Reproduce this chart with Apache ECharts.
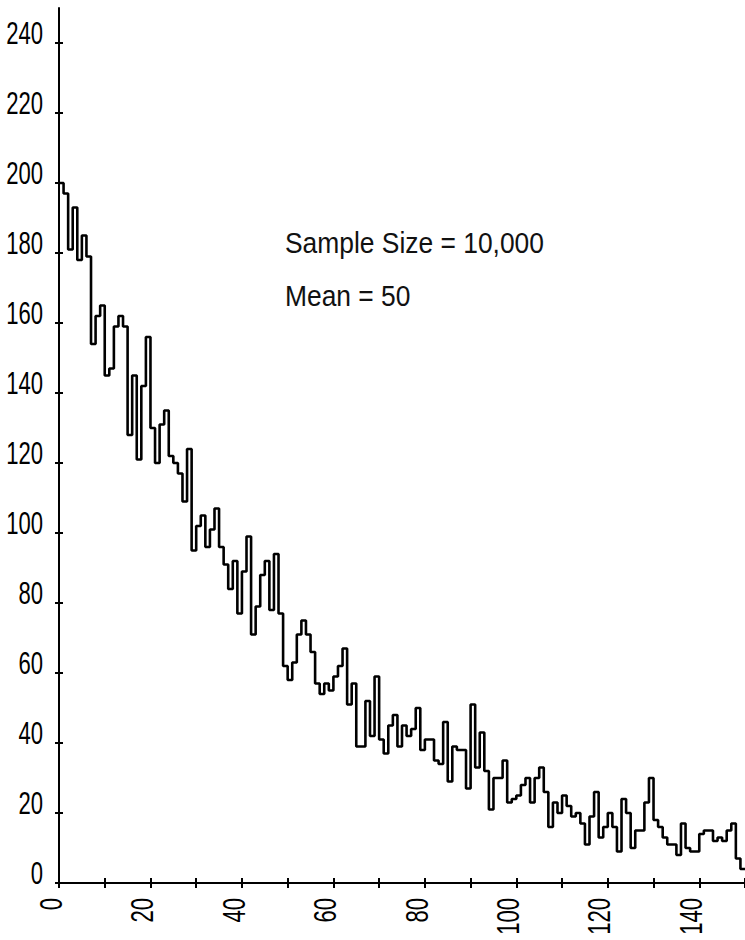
<!DOCTYPE html>
<html><head><meta charset="utf-8">
<script src="https://cdn.jsdelivr.net/npm/echarts@6/dist/echarts.min.js"></script>
<style>html,body{margin:0;padding:0;background:#fff}#c{width:745px;height:940px}</style>
</head><body><div id="c"></div>
<script>
// counts per unit-width bin, bins start at 0,1,2,...,149
const binCounts = [
  200,197,181,193,178,185,179,154,162,165,
  145,147,159,162,159,128,145,121,142,156,
  130,120,131,135,122,120,117,109,124,95,
  102,105,96,101,107,96,91,84,92,77,
  89,99,71,79,88,92,78,94,77,62,
  58,63,71,75,71,66,57,54,57,55,
  59,62,67,51,57,39,39,52,42,59,
  41,37,45,48,39,45,42,44,50,38,
  41,41,35,34,46,29,39,38,38,27,
  51,33,43,32,21,30,30,35,23,24,
  25,28,30,23,30,33,26,16,23,20,
  25,22,19,20,17,11,19,26,13,16,
  20,16,9,24,20,10,15,15,23,30,
  18,16,13,11,11,8,17,10,9,9,
  14,15,15,12,13,12,15,17,7,4
];
const xTickValues = [0,10,20,30,40,50,60,70,80,90,100,110,120,130,140,150];
const xLabelValues = [0,20,40,60,80,100,120,140];
const yTickValues = [0,20,40,60,80,100,120,140,160,180,200,220,240];
const noteLines = ['Sample Size = 10,000', 'Mean = 50'];

const FONT = "'Liberation Sans', Arial, sans-serif";
const LABEL_SIZE = 32;
const chart = echarts.init(document.getElementById('c'), null, {renderer: 'svg'});

const pts = binCounts.map((c, i) => [i, c]);
pts.push([binCounts.length, binCounts[binCounts.length - 1]]);

const axisLineStyle = {color: '#000', width: 2};

chart.setOption({
  animation: false,
  backgroundColor: '#fff',
  grid: {left: 59, top: 8, width: 690, height: 875},
  xAxis: [
    {
      type: 'value', min: 0, max: 150,
      axisLine: {show: true, onZero: false, lineStyle: axisLineStyle},
      axisTick: {show: true, customValues: xTickValues, length: 5, lineStyle: axisLineStyle},
      axisLabel: {show: false},
      splitLine: {show: false}
    },
    {
      type: 'value', min: 0, max: 150, position: 'bottom', offset: 0,
      axisLine: {show: false},
      axisTick: {show: true, inside: true, customValues: xTickValues, length: 5, lineStyle: axisLineStyle},
      axisLabel: {show: false},
      splitLine: {show: false}
    }
  ],
  yAxis: [
    {
      type: 'value', min: 0, max: 250,
      axisLine: {show: true, onZero: false, lineStyle: axisLineStyle},
      axisTick: {show: true, customValues: yTickValues, length: 4, lineStyle: axisLineStyle},
      axisLabel: {show: false},
      splitLine: {show: false}
    },
    {
      type: 'value', min: 0, max: 250, position: 'left', offset: 0,
      axisLine: {show: false},
      axisTick: {show: true, inside: true, customValues: yTickValues, length: 4, lineStyle: axisLineStyle},
      axisLabel: {show: false},
      splitLine: {show: false}
    }
  ],
  series: [{
    type: 'line',
    step: 'end',
    xAxisIndex: 0, yAxisIndex: 0,
    symbol: 'none',
    data: pts,
    lineStyle: {color: '#000', width: 2.6},
    z: 3
  }]
});

// Tick labels placed through the axes' own scales (narrowed like the plotter font)
const baseOff = 0.19 * LABEL_SIZE;
const graphics = [];
yTickValues.forEach(v => {
  const p = chart.convertToPixel({xAxisIndex: 0, yAxisIndex: 0}, [0, v]);
  graphics.push({
    type: 'text', x: p[0] - 16, y: p[1] + baseOff, scaleX: 0.69, silent: true,
    style: {text: String(v), x: 0, y: 0, align: 'right', verticalAlign: 'bottom',
            font: LABEL_SIZE + 'px ' + FONT, fill: '#000'}
  });
});
xLabelValues.forEach(v => {
  const p = chart.convertToPixel({xAxisIndex: 0, yAxisIndex: 0}, [v, 0]);
  graphics.push({
    type: 'text', x: p[0] + 1.5 + baseOff, y: p[1] + 15, rotation: Math.PI / 2, scaleX: 0.69, silent: true,
    style: {text: String(v), x: 0, y: 0, align: 'right', verticalAlign: 'bottom',
            font: LABEL_SIZE + 'px ' + FONT, fill: '#000'}
  });
});
noteLines.forEach((t, i) => {
  graphics.push({
    type: 'text', x: 285, y: 252 + i * 53 + 0.19 * 30, scaleX: 0.88, silent: true,
    style: {text: t, x: 0, y: 0, align: 'left', verticalAlign: 'bottom',
            font: '30px ' + FONT, fill: '#111'}
  });
});
chart.setOption({graphic: graphics});
</script>
</body></html>
